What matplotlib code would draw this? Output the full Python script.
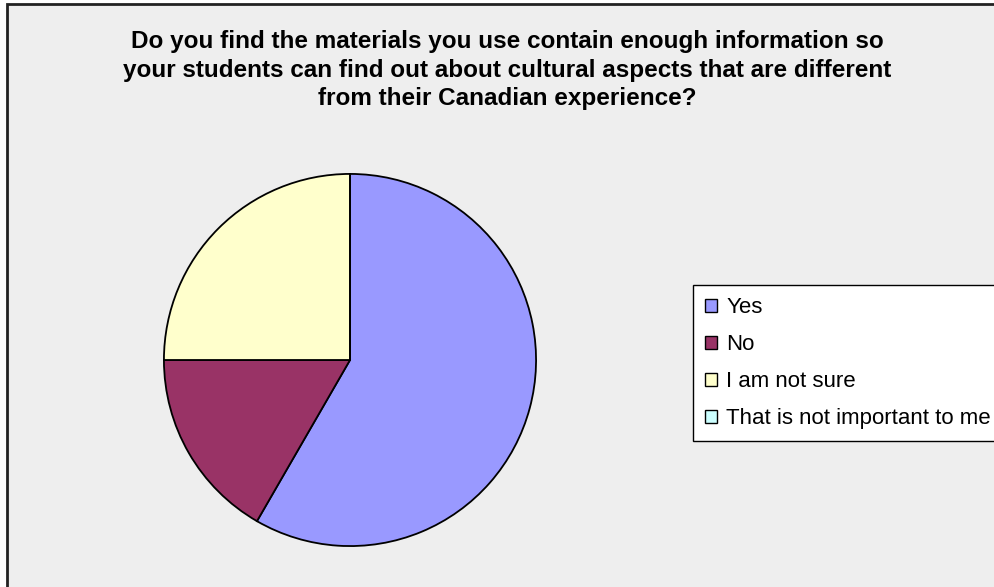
import matplotlib
matplotlib.use("Agg")
import matplotlib.pyplot as plt
from matplotlib.patches import Rectangle

# Survey responses (number of respondents)
categories = ["Yes", "No", "I am not sure", "That is not important to me"]
counts = [7, 2, 3, 0]
colors = ["#9999FF", "#993366", "#FFFFCC", "#CCFFFF"]

title = ("Do you find the materials you use contain enough information so\n"
         "your students can find out about cultural aspects that are different\n"
         "from their Canadian experience?")

W, H = 995, 587
fig = plt.figure(figsize=(W / 100, H / 100), dpi=100, facecolor="white")

# Chart area background with a dark frame on the top and left
fig.patches.append(Rectangle((7 / W, -0.05), 1.1, 1 - 4 / H + 0.05,
                             transform=fig.transFigure, facecolor="#EEEEEE",
                             edgecolor="#222222", linewidth=2, zorder=-5))

fig.text(507 / W, 1 - 30 / H, title, ha="center", va="top",
         family="Liberation Sans", fontweight="bold", fontsize=17.5,
         linespacing=1.31, color="black")

# Pie: centre (350, 360) px, radius 187 px
cx, cy, r = 350, 360, 187
ax = fig.add_axes([(cx - r) / W, (H - cy - r) / H, 2 * r / W, 2 * r / H])
ax.set_zorder(2)
wedges, _ = ax.pie(counts, colors=colors, startangle=90, counterclock=False,
                   wedgeprops=dict(edgecolor="black", linewidth=1.3))
ax.set_xlim(-1.005, 1.005)
ax.set_ylim(-1.005, 1.005)
ax.axis("off")

leg = fig.legend(wedges, categories, loc="upper left",
                 bbox_to_anchor=(693 / W, 1 - 285 / H),
                 bbox_transform=fig.transFigure, frameon=True, fancybox=False,
                 edgecolor="black", facecolor="white", framealpha=1,
                 prop=dict(family="Liberation Sans", size=16),
                 handlelength=0.55, handleheight=0.55, handletextpad=0.4,
                 labelspacing=0.72, borderpad=0.55, borderaxespad=0)
leg.set_zorder(3)
leg.get_frame().set_linewidth(1.0)
for h in leg.legend_handles:
    h.set_edgecolor("black")
    h.set_linewidth(1.0)

fig.savefig("out.png", dpi=100, facecolor="white")
